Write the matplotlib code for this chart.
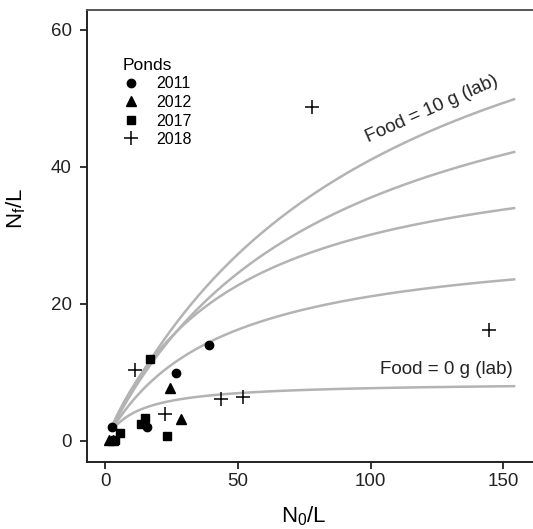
import numpy as np
import matplotlib.pyplot as plt

plt.rcParams["font.family"] = ["Liberation Sans", "DejaVu Sans"]
plt.rcParams["mathtext.fontset"] = "custom"
plt.rcParams["mathtext.rm"] = "Liberation Sans"

# Pond data (N0/L, Nf/L)
x_2011 = [2.4, 15.8, 26.6, 39.2]
y_2011 = [2.0, 2.0, 9.9, 14.0]
x_2012 = [1.2, 3.0, 24.4, 28.5]
y_2012 = [0.2, 0.2, 7.8, 3.2]
x_2017 = [3.8, 5.5, 13.5, 15.0, 16.8, 23.1]
y_2017 = [0.2, 1.2, 2.5, 3.3, 12.0, 0.7]
x_2018 = [11.2, 22.5, 43.6, 52.0, 77.8, 144.6]
y_2018 = [10.3, 4.0, 6.1, 6.4, 48.8, 16.2]

# Lab model curves (Beverton-Holt): initial slope a, ceiling K; food 10 g first, 0 g last
curve_a = [0.813, 0.791, 0.927, 0.707, 0.74]
curve_K = [82.9, 64.5, 44.6, 30.1, 8.6]
curve_xmax = 154

fig = plt.figure(figsize=(5.33, 5.29), dpi=100)
ax = fig.add_axes([87 / 533, 67 / 529, 451 / 533, 452 / 529])

n0 = np.linspace(2.5, curve_xmax, 300)
for a, K in zip(curve_a, curve_K):
    ax.plot(n0, a * n0 / (1 + a * n0 / K), color="#b3b3b3", lw=1.8, zorder=1)

ax.plot(x_2011, y_2011, "o", color="black", ms=6, ls="none", label="2011", zorder=3)
ax.plot(x_2012, y_2012, "^", color="black", ms=7, ls="none", label="2012", zorder=3)
ax.plot(x_2017, y_2017, "s", color="black", ms=6, ls="none", label="2017", zorder=3)
ax.plot(x_2018, y_2018, "+", color="black", ms=10, mew=1.1, ls="none", label="2018", zorder=3)

ax.text(123, 48.4, "Food = 10 g (lab)", rotation=24, ha="center", va="center",
        fontsize=13.5, color="#222222")
ax.text(128.5, 10.4, "Food = 0 g (lab)", ha="center", va="center",
        fontsize=13.5, color="#222222")

ax.set_xlim(-6.9, 163)
ax.set_ylim(-3.07, 62.9)
ax.set_xticks([0, 50, 100, 150])
ax.set_yticks([0, 20, 40, 60])

for side in ["left", "bottom"]:
    ax.spines[side].set_linewidth(1.4)
    ax.spines[side].set_color("#222222")
ax.spines["top"].set_linewidth(1.4)
ax.spines["top"].set_color("#555555")
ax.spines["right"].set_visible(False)
ax.tick_params(direction="out", length=5, width=1.3, labelsize=13.5, colors="#222222")
ax.tick_params(axis="y", pad=6)
ax.tick_params(axis="x", pad=3)

ax.set_xlabel(r"$\mathregular{N_0/L}$", fontsize=16)
ax.set_ylabel(r"$\mathregular{N_f/L}$", fontsize=16)
ax.xaxis.set_label_coords(0.48, -0.094)
ax.yaxis.set_label_coords(-0.13, 0.562)

leg = ax.legend(title="Ponds", loc="upper left", bbox_to_anchor=(115 / 533, 1 - 50 / 529),
                bbox_transform=fig.transFigure, frameon=False, fontsize=11.5,
                title_fontsize=12.5, handlelength=1.0, handletextpad=1.1,
                labelspacing=0.22, alignment="left", borderpad=0)

fig.savefig("out.png", dpi=100)
